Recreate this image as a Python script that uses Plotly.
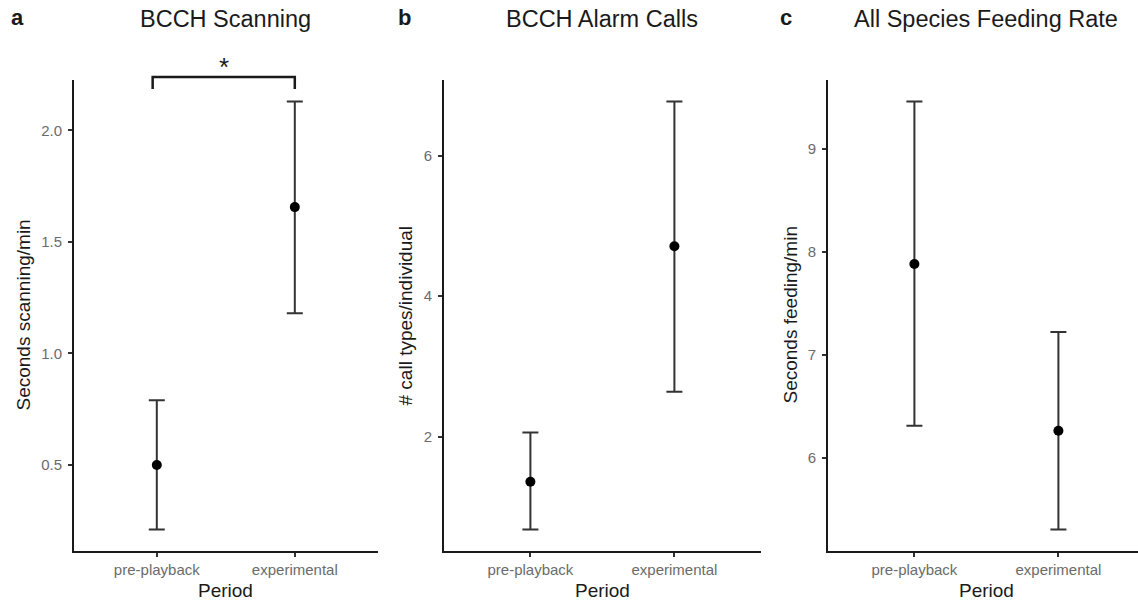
import plotly.graph_objects as go

# ---- data -------------------------------------------------------------
periods = ["pre-playback", "experimental"]

scan_mean = [0.50, 1.656]
scan_low = [0.21, 1.18]
scan_high = [0.79, 2.13]

alarm_mean = [1.36, 4.71]
alarm_low = [0.68, 2.64]
alarm_high = [2.06, 6.77]

feed_mean = [7.88, 6.26]
feed_low = [6.31, 5.30]
feed_high = [9.46, 7.22]

panel_titles = ["BCCH Scanning", "BCCH Alarm Calls", "All Species Feeding Rate"]
panel_letters = ["a", "b", "c"]
y_titles = ["Seconds scanning/min", "# call types/individual", "Seconds feeding/min"]
y_ticks = [[0.5, 1.0, 1.5, 2.0], [2, 4, 6], [6, 7, 8, 9]]
y_tick_text = [["0.5", "1.0", "1.5", "2.0"], ["2", "4", "6"], ["6", "7", "8", "9"]]
sig_label = "*"

# ---- layout geometry (pixels of a 1138 x 603 canvas) ------------------
W, H = 1138, 603
FONT = "Liberation Sans, Arial, Helvetica, sans-serif"
x_px = [(74, 378), (444, 761), (828, 1138)]
y_px = (80, 551)
x_unit_px = [138, 144, 144]          # pixels per category step
y_dom = [(H - y_px[1]) / H, (H - y_px[0]) / H]


def expand(lo, hi, frac=0.05):
    span = hi - lo
    return [lo - frac * span, hi + frac * span]


series = [
    (scan_mean, scan_low, scan_high),
    (alarm_mean, alarm_low, alarm_high),
    (feed_mean, feed_low, feed_high),
]

fig = go.Figure()
layout = dict(
    width=W, height=H,
    margin=dict(l=0, r=0, t=0, b=0),
    paper_bgcolor="white", plot_bgcolor="white",
    showlegend=False,
    font=dict(family=FONT, color="#1a1a1a"),
)
annotations = []
shapes = []

for i, (mean, low, high) in enumerate(series):
    sfx = "" if i == 0 else str(i + 1)
    xa, ya = "x" + sfx, "y" + sfx
    fig.add_trace(go.Scatter(
        x=periods, y=mean, xaxis=xa, yaxis=ya, mode="markers",
        marker=dict(color="black", size=10),
        error_y=dict(
            type="data", symmetric=False,
            array=[h - m for h, m in zip(high, mean)],
            arrayminus=[m - l for m, l in zip(mean, low)],
            color="#333333", thickness=2, width=8,
        ),
    ))

    x0, x1 = x_px[i]
    xr0 = -0.6
    xr1 = xr0 + (x1 - x0) / x_unit_px[i]
    yr = expand(min(low), max(high))

    layout["xaxis" + sfx] = dict(
        domain=[x0 / W, x1 / W], anchor=ya, type="category",
        categoryorder="array", categoryarray=periods,
        range=[xr0, xr1], showgrid=False, zeroline=False,
        showline=True, linecolor="#1a1a1a", linewidth=2,
        ticks="outside", ticklen=4, tickwidth=1.5, tickcolor="#333333",
        tickfont=dict(size=15, color="#6b6b6b", family=FONT),
        fixedrange=True,
    )
    layout["yaxis" + sfx] = dict(
        domain=y_dom, anchor=xa, range=yr,
        tickvals=y_ticks[i], ticktext=y_tick_text[i],
        showgrid=False, zeroline=False,
        showline=True, linecolor="#1a1a1a", linewidth=2,
        ticks="outside", ticklen=4, tickwidth=1.5, tickcolor="#333333",
        ticklabelstandoff=3,
        tickfont=dict(size=15, color="#6b6b6b", family=FONT),
        fixedrange=True,
    )

    # panel title centred over the full panel extent
    full_right = x0 + 2.2 * x_unit_px[i]
    annotations.append(dict(
        text=panel_titles[i], xref="paper", yref="paper",
        x=(x0 + full_right) / 2 / W, y=1 - 19 / H,
        xanchor="center", yanchor="middle", showarrow=False,
        font=dict(size=23.5, color="#1a1a1a", family=FONT),
    ))
    # panel letter
    letter_x = [17, 404, 786][i]
    annotations.append(dict(
        text="<b>" + panel_letters[i] + "</b>", xref="paper", yref="paper",
        x=letter_x / W, y=1 - 18 / H, xanchor="center", yanchor="middle",
        showarrow=False, font=dict(size=22, color="#1a1a1a", family=FONT),
    ))
    # x axis title
    annotations.append(dict(
        text="Period", xref="paper", yref="paper",
        x=(x0 + full_right) / 2 / W, y=1 - 590 / H,
        xanchor="center", yanchor="middle", showarrow=False,
        font=dict(size=19, color="#1a1a1a", family=FONT),
    ))
    # y axis title
    ytitle_x = [23, 405, 790][i]
    annotations.append(dict(
        text=y_titles[i], xref="paper", yref="paper",
        x=ytitle_x / W, y=1 - (y_px[0] + y_px[1]) / 2 / H,
        xanchor="center", yanchor="middle", textangle=-90, showarrow=False,
        font=dict(size=19, color="#1a1a1a", family=FONT),
    ))

# significance bracket between the two periods of panel a
br_left, br_right = -0.03, 1.0
br_top = 1 - 77 / H
br_leg = 1 - 89 / H
shapes.append(dict(
    type="path", xref="x", yref="paper",
    path=f"M {br_left},{br_leg} L {br_left},{br_top} L {br_right},{br_top} L {br_right},{br_leg}",
    line=dict(color="#1a1a1a", width=2.5),
))
annotations.append(dict(
    text=sig_label, xref="x", yref="paper",
    x=(br_left + br_right) / 2, y=1 - 67 / H,
    xanchor="center", yanchor="middle", showarrow=False,
    font=dict(size=26, color="#1a1a1a", family=FONT),
))

layout["annotations"] = annotations
layout["shapes"] = shapes
fig.update_layout(**layout)
fig.write_html("out.html")
